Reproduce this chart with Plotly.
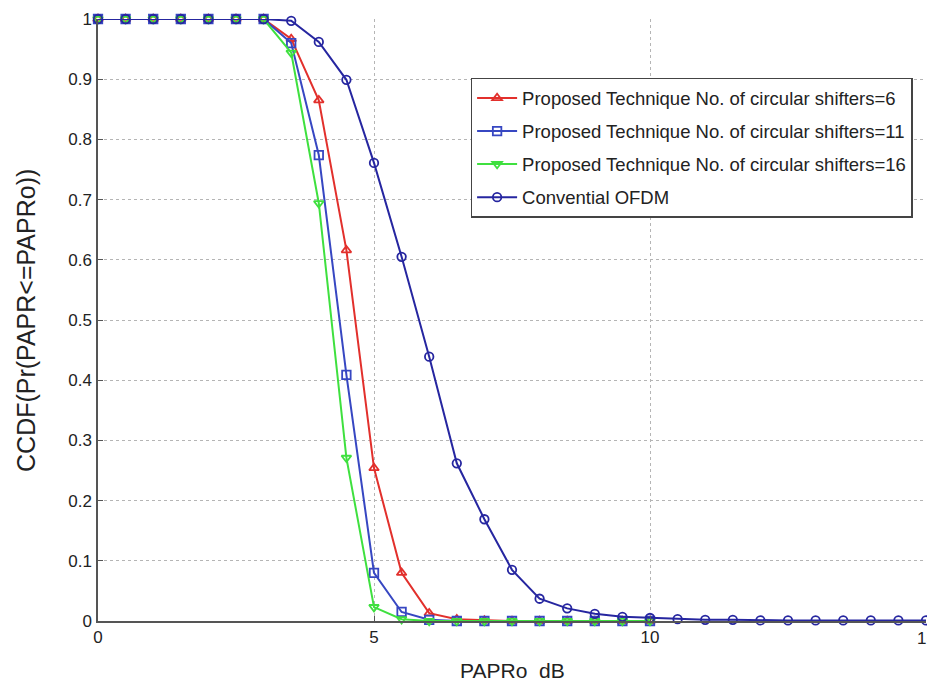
import plotly.graph_objects as go

# ---- data ----
x_prop = [0, 0.5, 1, 1.5, 2, 2.5, 3, 3.5, 4, 4.5, 5, 5.5, 6, 6.5, 7, 7.5, 8, 8.5, 9, 9.5, 10]
y_cs6 = [1, 1, 1, 1, 1, 1, 1, 0.967, 0.865, 0.616, 0.254, 0.080, 0.013, 0.003, 0.001, 0, 0, 0, 0, 0, 0]
y_cs11 = [1, 1, 1, 1, 1, 1, 1, 0.960, 0.774, 0.409, 0.080, 0.015, 0.002, 0, 0, 0, 0, 0, 0, 0, 0]
y_cs16 = [1, 1, 1, 1, 1, 1, 1, 0.944, 0.694, 0.271, 0.023, 0.003, 0, 0, 0, 0, 0, 0, 0, 0, 0]

x_conv = [0, 0.5, 1, 1.5, 2, 2.5, 3, 3.5, 4, 4.5, 5, 5.5, 6, 6.5, 7, 7.5, 8, 8.5, 9, 9.5, 10,
          10.5, 11, 11.5, 12, 12.5, 13, 13.5, 14, 14.5, 15]
y_conv = [1, 1, 1, 1, 1, 1, 1, 0.997, 0.962, 0.899, 0.761, 0.605, 0.439, 0.262, 0.169, 0.085,
          0.037, 0.021, 0.012, 0.007, 0.005, 0.003, 0.002, 0.002, 0.001, 0.001, 0.001, 0.001,
          0.001, 0.001, 0.001]

names = [
    "Proposed Technique No. of circular shifters=6",
    "Proposed Technique No. of circular shifters=11",
    "Proposed Technique No. of circular shifters=16",
    "Convential OFDM",
]
x_ticks = [0, 5, 10]
x_last_tick = 15
y_ticks = [0, 0.1, 0.2, 0.3, 0.4, 0.5, 0.6, 0.7, 0.8, 0.9, 1]
y_tick_text = ["0", "0.1", "0.2", "0.3", "0.4", "0.5", "0.6", "0.7", "0.8", "0.9", "1"]
x_title = "PAPRo  dB"
y_title = "CCDF(Pr(PAPR<=PAPRo))"

FONT = "Liberation Sans, Arial, sans-serif"

fig = go.Figure()
styles = [
    (x_prop, y_cs6, "#e2302c", "triangle-up-open"),
    (x_prop, y_cs11, "#3747c2", "square-open"),
    (x_prop, y_cs16, "#3fe03f", "triangle-down-open"),
    (x_conv, y_conv, "#2626a0", "circle-open"),
]
for i, ((xs, ys, col, sym), nm) in enumerate(zip(styles, names)):
    fig.add_trace(go.Scatter(
        x=xs, y=ys, name=nm, mode="lines+markers", legendgroup=f"g{i}",
        line=dict(color=col, width=2),
        marker=dict(symbol=sym, size=8.5, color=col, line=dict(color=col, width=1.8)),
        cliponaxis=False,
    ))

axis_common = dict(
    showline=True, linecolor="#555555", linewidth=1.5, mirror=False,
    ticks="inside", ticklen=5, tickcolor="#555555", tickwidth=1,
    showgrid=True, gridcolor="#b5b5b5", griddash="dot", gridwidth=1,
    zeroline=False, automargin=False,
    tickfont=dict(family=FONT, size=17, color="#222222"),
)

fig.update_xaxes(range=[0, 15], tickvals=x_ticks + [x_last_tick],
                 ticktext=[str(t) for t in x_ticks] + [""], **axis_common)
fig.update_yaxes(range=[0, 1], tickvals=y_ticks, ticktext=y_tick_text, ticklabelstandoff=1, **axis_common)

# last x tick label sits at the right edge of the page (cut off as in the original)
fig.add_annotation(
    text=str(x_last_tick), xref="x", yref="paper", x=x_last_tick, y=0,
    xanchor="center", yanchor="top", yshift=-6, showarrow=False,
    font=dict(family=FONT, size=17, color="#222222"),
)
fig.add_annotation(
    text=x_title, xref="paper", yref="paper", x=0.5, y=-0.0814,
    xanchor="center", yanchor="middle", showarrow=False,
    font=dict(family=FONT, size=21, color="#222222"),
)
fig.add_annotation(
    text=y_title, xref="paper", yref="paper", x=-0.087, y=0.5,
    xanchor="center", yanchor="middle", showarrow=False, textangle=-90,
    font=dict(family=FONT, size=25, color="#222222"),
)

# page has an 8px body margin, so the figure is sized and placed to compensate
fig.update_layout(
    width=927, height=680,
    margin=dict(l=90, r=9, t=11, b=67, autoexpand=False),
    paper_bgcolor="white", plot_bgcolor="white",
    showlegend=True,
    legend=dict(
        x=0.45, y=0.902, xanchor="left", yanchor="top",
        bgcolor="white", bordercolor="#444444", borderwidth=1.5,
        font=dict(family=FONT, size=18.5, color="#222222"),
        tracegroupgap=6, itemwidth=40,
    ),
)

fig.write_html("out.html")
